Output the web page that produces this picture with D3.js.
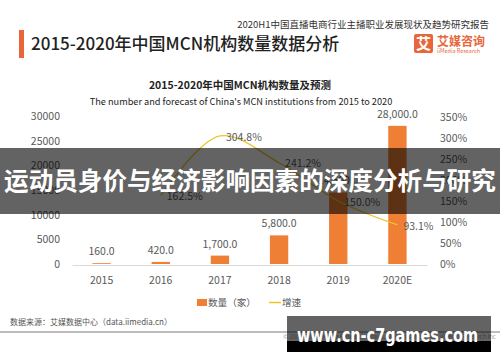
<!DOCTYPE html>
<html>
<head>
<meta charset="utf-8">
<script src="https://cdn.jsdelivr.net/npm/d3@7"></script>
<style>
  body { margin: 0; background: #fff; }
  svg { display: block; font-family: "Noto Sans CJK SC", "Noto Sans", sans-serif; }
</style>
</head>
<body>
<div id="chart"></div>
<script>
// data
const years = ["2015", "2016", "2017", "2018", "2019", "2020E"];
const counts = [160, 420, 1700, 5800, 14500, 28000];
const growth = [null, 162.5, 304.8, 241.2, 150.0, 93.1];
const leftTicks = [0, 5000, 10000, 15000, 20000, 25000, 30000];
const rightTicks = [0, 50, 100, 150, 200, 250, 300, 350];

const W = 500, H = 362;
const orange = "#ee7f34";
const yellow = "#ecc52a";
const grey = "#595959";

const svg = d3.select("#chart").append("svg")
    .attr("width", W)
    .attr("height", H);

// header
svg.append("rect")
    .attr("x", 19).attr("y", 30).attr("width", 5).attr("height", 28)
    .attr("fill", "#e8663a");

svg.append("text")
    .attr("x", 31).attr("y", 50)
    .attr("font-size", 17)
    .attr("font-weight", 500)
    .attr("fill", "#222")
    .text("2015-2020年中国MCN机构数量数据分析");

svg.append("text")
    .attr("x", 489).attr("y", 28)
    .attr("text-anchor", "end")
    .attr("font-size", 9.5)
    .attr("fill", "#333")
    .text("2020H1中国直播电商行业主播职业发展现状及趋势研究报告");

// logo
svg.append("rect")
    .attr("x", 414).attr("y", 34).attr("width", 19).attr("height", 19)
    .attr("rx", 2)
    .attr("fill", "#e8663a");
svg.append("text")
    .attr("x", 423.5).attr("y", 49)
    .attr("text-anchor", "middle")
    .attr("font-size", 15)
    .attr("font-weight", 700)
    .attr("fill", "#fff")
    .text("艾");
svg.append("text")
    .attr("x", 437).attr("y", 46)
    .attr("font-size", 12)
    .attr("font-weight", 700)
    .attr("fill", "#e8663a")
    .text("艾媒咨询");
svg.append("text")
    .attr("x", 437).attr("y", 53)
    .attr("font-size", 5.5)
    .attr("fill", "#e8663a")
    .text("iiMedia Research");

// chart titles
svg.append("text")
    .attr("x", 240).attr("y", 89)
    .attr("text-anchor", "middle")
    .attr("font-size", 10.5)
    .attr("font-weight", 700)
    .attr("fill", "#222")
    .text("2015-2020年中国MCN机构数量及预测");

svg.append("text")
    .attr("x", 241).attr("y", 105)
    .attr("text-anchor", "middle")
    .attr("font-size", 9.2)
    .attr("fill", "#222")
    .text("The number and forecast of China's MCN institutions from 2015 to 2020");

// scales
const x = d3.scaleBand()
    .domain(years)
    .range([72, 427])
    .paddingInner(0.69)
    .paddingOuter(0.345);

const yL = d3.scaleLinear().domain([0, 30000]).range([264, 116]);
const yR = d3.scaleLinear().domain([0, 350]).range([264, 117]);

// axes
const axisL = svg.append("g")
    .attr("transform", "translate(63,0)")
    .call(d3.axisLeft(yL).tickValues(leftTicks).tickSize(0).tickPadding(3).tickFormat(d => d));
axisL.select(".domain").remove();

const axisR = svg.append("g")
    .attr("transform", "translate(437,0)")
    .call(d3.axisRight(yR).tickValues(rightTicks).tickSize(0).tickPadding(3).tickFormat(d => d + "%"));
axisR.select(".domain").remove();

const axisX = svg.append("g")
    .attr("transform", "translate(0,265)")
    .call(d3.axisBottom(x).tickSize(0).tickSizeOuter(0).tickPadding(12));
axisX.select(".domain").attr("stroke", "#d9d9d9");

svg.selectAll(".tick text")
    .attr("font-family", "'Noto Sans CJK SC', sans-serif")
    .attr("font-size", 10.5)
    .attr("fill", grey);

// bars
const rows = years.map((y, i) => ({ year: y, count: counts[i], growth: growth[i] }));

svg.selectAll(".bar")
    .data(rows)
    .enter()
    .append("rect")
    .attr("class", "bar")
    .attr("x", d => x(d.year))
    .attr("y", d => yL(d.count))
    .attr("width", x.bandwidth())
    .attr("height", d => yL(0) - yL(d.count))
    .attr("fill", orange);

svg.selectAll(".val")
    .data(rows)
    .enter()
    .append("text")
    .attr("class", "val")
    .attr("x", d => x(d.year) + x.bandwidth() / 2)
    .attr("y", d => yL(d.count) - 8)
    .attr("text-anchor", "middle")
    .attr("font-size", 10.5)
    .attr("fill", grey)
    .text(d => d3.format(",.1f")(d.count));

// growth line
const lineRows = rows.filter(d => d.growth !== null);
const cx = d => x(d.year) + x.bandwidth() / 2;

const line = d3.line()
    .x(cx)
    .y(d => yR(d.growth))
    .curve(d3.curveCatmullRom.alpha(0.5));

svg.append("path")
    .datum(lineRows)
    .attr("d", line)
    .attr("fill", "none")
    .attr("stroke", yellow)
    .attr("stroke-width", 1.3);

svg.selectAll(".pct")
    .data(lineRows)
    .enter()
    .append("text")
    .attr("class", "pct")
    .attr("x", d => cx(d) + 6)
    .attr("y", d => yR(d.growth) + 1)
    .attr("dy", "0.35em")
    .attr("font-size", 10.5)
    .attr("fill", grey)
    .text(d => d.growth.toFixed(1) + "%");

// legend
svg.append("rect")
    .attr("x", 197).attr("y", 299).attr("width", 10).attr("height", 7)
    .attr("fill", orange);
svg.append("text")
    .attr("x", 208).attr("y", 306)
    .attr("font-size", 9.6)
    .attr("fill", grey)
    .text("数量（家）");
svg.append("line")
    .attr("x1", 269).attr("x2", 281).attr("y1", 302.5).attr("y2", 302.5)
    .attr("stroke", yellow).attr("stroke-width", 1.5);
svg.append("text")
    .attr("x", 282).attr("y", 306)
    .attr("font-size", 9.6)
    .attr("fill", grey)
    .text("增速");

// footer
svg.append("text")
    .attr("x", 10).attr("y", 325)
    .attr("font-size", 8)
    .attr("fill", "#555")
    .text("数据来源：艾媒数据中心（data.iimedia.cn）");

svg.append("rect")
    .attr("x", 0).attr("y", 331).attr("width", W).attr("height", 2)
    .attr("fill", "#bdbdbd");

svg.append("text")
    .attr("x", 283).attr("y", 339)
    .attr("font-size", 6.5)
    .attr("fill", "#aaa")
    .attr("textLength", 213)
    .text("© 2007-2020 iiMedia Research Group. All Rights Reserved. iiMedia Research Inc");

// overlay banner
svg.append("rect")
    .attr("x", 0).attr("y", 148).attr("width", W).attr("height", 66)
    .attr("fill", "rgba(0,0,0,0.61)");
svg.append("text")
    .attr("x", 250).attr("y", 181)
    .attr("dy", "0.36em")
    .attr("text-anchor", "middle")
    .attr("font-size", 24.6)
    .attr("font-weight", 700)
    .attr("fill", "#fff")
    .text("运动员身价与经济影响因素的深度分析与研究");

// watermark
svg.append("rect")
    .attr("x", 287).attr("y", 316).attr("width", 204).attr("height", 25)
    .attr("fill", "rgba(0,0,0,0.61)");
svg.append("rect")
    .attr("x", 287).attr("y", 341).attr("width", 204).attr("height", 11)
    .attr("fill", "#000");
svg.append("text")
    .attr("x", 297).attr("y", 342)
    .attr("font-family", "'DejaVu Sans', sans-serif")
    .attr("font-size", 20)
    .attr("font-weight", 700)
    .attr("fill", "#fff")
    .attr("textLength", 181)
    .attr("lengthAdjust", "spacingAndGlyphs")
    .text("www.cn-c7games.com");
</script>
</body>
</html>
